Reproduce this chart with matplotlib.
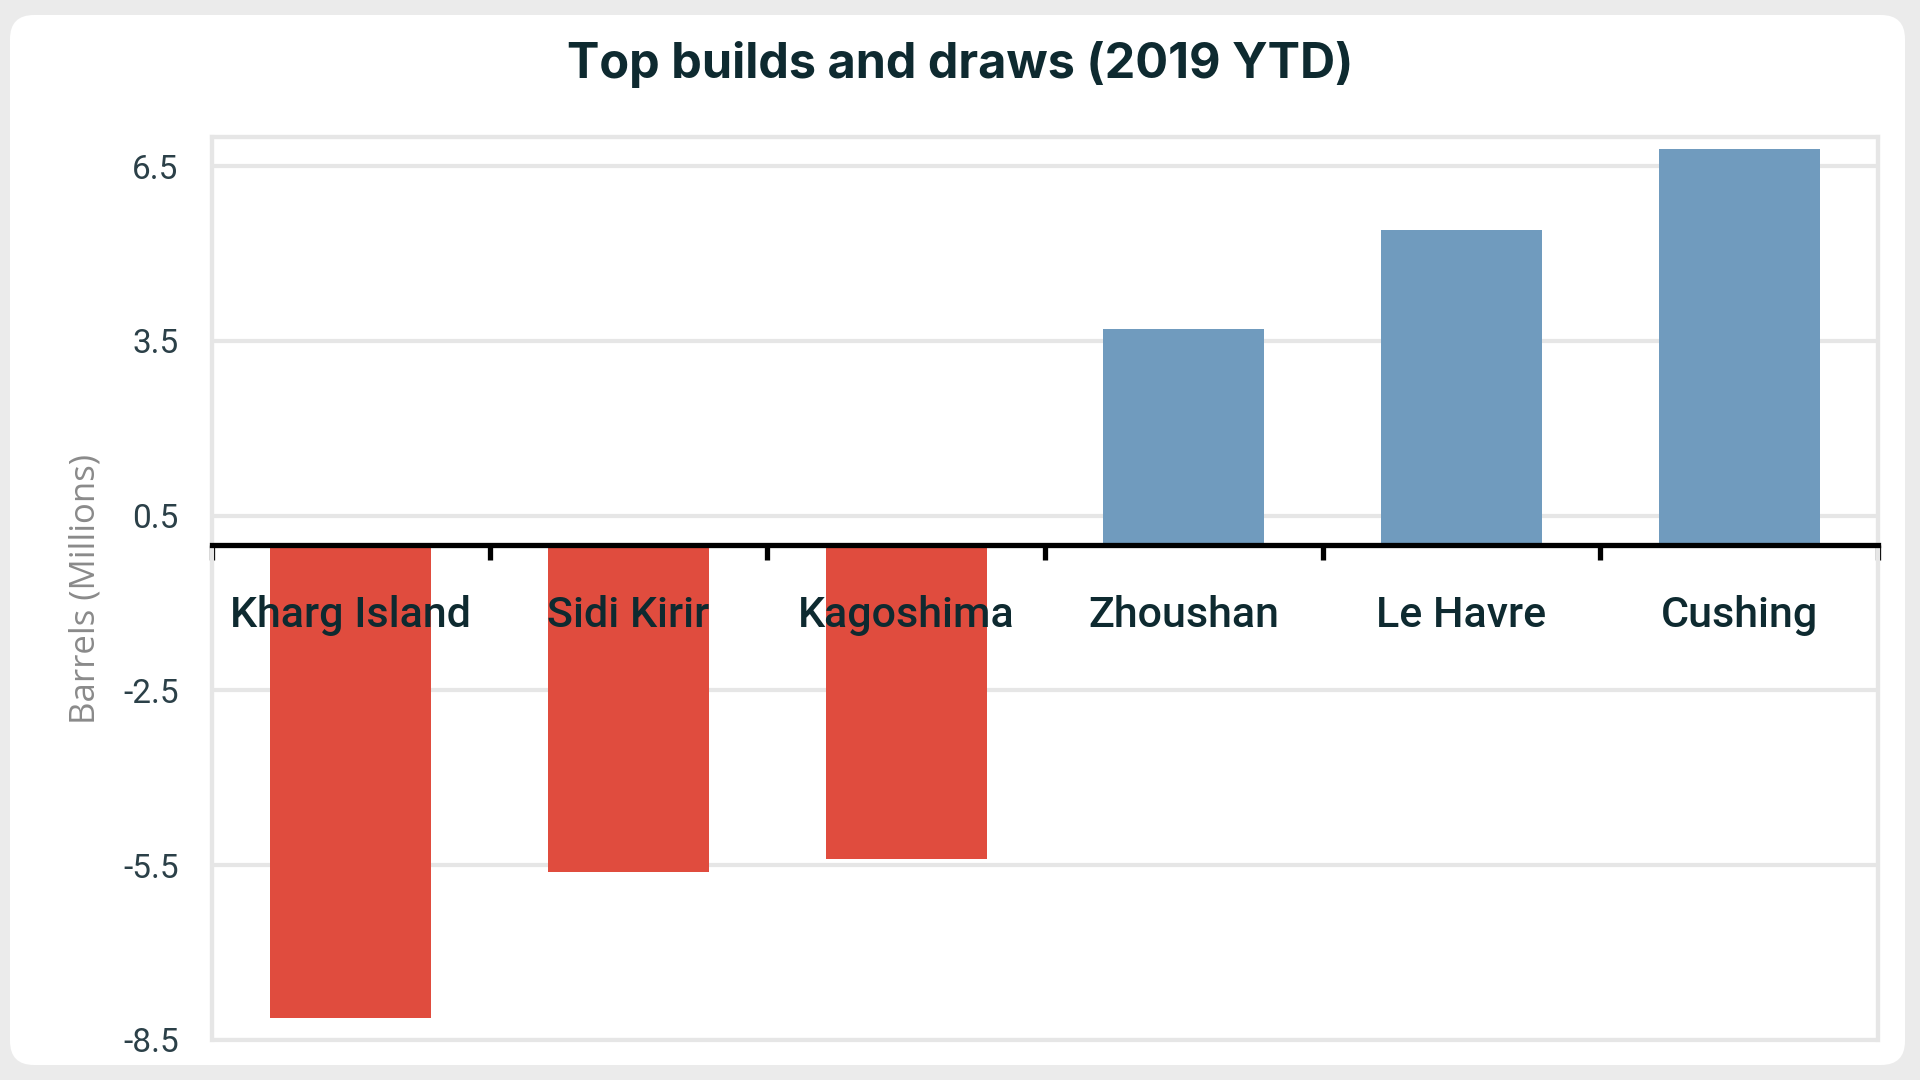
import matplotlib
matplotlib.use("Agg")
import matplotlib.pyplot as plt
from matplotlib.patches import FancyBboxPatch, Rectangle
from matplotlib.transforms import IdentityTransform
import numpy as np

# --- data ---
ports = ["Kharg Island", "Sidi Kirir", "Kagoshima", "Zhoushan", "Le Havre", "Cushing"]
change_mbbl = [-8.13, -5.62, -5.40, 3.70, 5.40, 6.80]
y_ticks = [-8.5, -5.5, -2.5, 0.5, 3.5, 6.5]

RED = "#e04c3e"
BLUE = "#709bbe"
GRID = "#e6e6e6"
INK = "#0e2a30"

fig = plt.figure(figsize=(19.2, 10.8), dpi=100)
fig.patch.set_facecolor("#ebebeb")

# white rounded card behind everything
card = FancyBboxPatch((10, 15), 1895, 1050, boxstyle="round,pad=0,rounding_size=24",
                      transform=IdentityTransform(), facecolor="white", edgecolor="none", zorder=-5)
fig.patches.append(card)

ax = fig.add_axes([212 / 1920, 40 / 1080, (1878 - 212) / 1920, (1040 - 137) / 1080])
ax.set_facecolor("none")
ax.set_zorder(2)

xs = np.arange(len(ports))
colors = [RED if v < 0 else BLUE for v in change_mbbl]
ax.bar(xs, change_mbbl, width=0.58, color=colors, zorder=1)

ax.set_xlim(-0.5, len(ports) - 0.5)
ax.set_ylim(-8.5, 7.0)
ax.set_yticks(y_ticks)
ax.set_yticklabels([f"{t:g}" for t in y_ticks])
ax.tick_params(axis="y", length=0, pad=24, labelsize=24, labelcolor="#2b4048")
for lab in ax.get_yticklabels():
    lab.set_family("Roboto")

ax.set_axisbelow(True)
ax.grid(axis="y", color=GRID, linewidth=3)

# frame in light grey, bottom spine becomes the black zero line
for s in ["left", "right", "top"]:
    ax.spines[s].set_color(GRID)
    ax.spines[s].set_linewidth(3)
ax.add_patch(Rectangle((0, 0), 1, 1, transform=ax.transAxes, fill=False,
                       edgecolor=GRID, linewidth=3, zorder=0.4, clip_on=False))
ax.spines["bottom"].set_position(("data", 0))
ax.spines["bottom"].set_color("black")
ax.spines["bottom"].set_linewidth(3.8)
ax.spines["bottom"].set_zorder(3)

ax.set_xticks(xs)
ax.set_xticklabels([])
ax.tick_params(axis="x", which="major", length=0)
ax.set_xticks(np.arange(-0.5, len(ports), 1.0), minor=True)
ax.tick_params(axis="x", which="minor", length=11, width=3.8, color="black", direction="out")

for x, name in zip(xs, ports):
    ax.annotate(name, xy=(x, 0), xytext=(0, -51), textcoords="offset points",
                ha="center", va="center", fontsize=31, color=INK,
                family="Roboto", fontweight="medium", zorder=5)

ax.set_ylabel("Barrels (Millions)", fontsize=25, color="#8a8a8a", family="Open Sans")
ax.yaxis.set_label_coords(-0.066, 0.5)

fig.text(0.5, 1 - 64 / 1080, "Top builds and draws (2019 YTD)", ha="center", va="center",
         fontsize=35, fontweight="bold", color=INK, family="Inter")

fig.savefig("out.png", dpi=100, facecolor=fig.get_facecolor())
